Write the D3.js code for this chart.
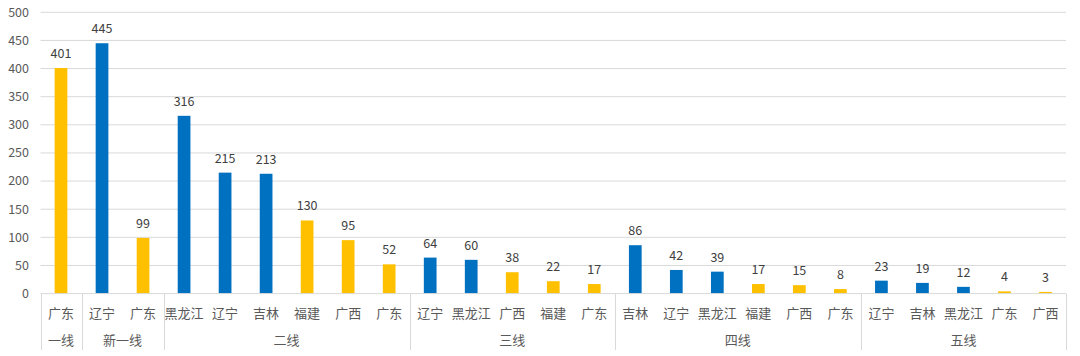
<!DOCTYPE html>
<html>
<head>
<meta charset="utf-8">
<script src="https://cdn.jsdelivr.net/npm/d3@7"></script>
<style>
  body { margin: 0; background: #fff; }
  text { font-family: "Noto Sans CJK SC", "Noto Sans", sans-serif; }
</style>
</head>
<body>
<div id="chart"></div>
<script>
var tiers = ["一线", "新一线", "二线", "三线", "四线", "五线"];
var tierOf = ["一线", "新一线", "新一线", "二线", "二线", "二线", "二线", "二线", "二线",
  "三线", "三线", "三线", "三线", "三线", "四线", "四线", "四线", "四线", "四线", "四线",
  "五线", "五线", "五线", "五线", "五线"];
var provinces = ["广东", "辽宁", "广东", "黑龙江", "辽宁", "吉林", "福建", "广西", "广东",
  "辽宁", "黑龙江", "广西", "福建", "广东", "吉林", "辽宁", "黑龙江", "福建", "广西", "广东",
  "辽宁", "吉林", "黑龙江", "广东", "广西"];
var values = [401, 445, 99, 316, 215, 213, 130, 95, 52, 64, 60, 38, 22, 17, 86, 42, 39, 17, 15, 8, 23, 19, 12, 4, 3];
var northeast = ["辽宁", "吉林", "黑龙江"];
var yTicks = [0, 50, 100, 150, 200, 250, 300, 350, 400, 450, 500];

(function () {
  var width = 1080, height = 356;
  var left = 40.5, right = 1066, top = 12.3, bottom = 293.6;

  var svg = d3.select("#chart").append("svg")
    .attr("width", width)
    .attr("height", height);

  var idx = d3.range(values.length);
  var x = d3.scaleBand().domain(idx).range([left, right]).paddingInner(0.69).paddingOuter(0.345);
  var y = d3.scaleLinear().domain([0, 500]).range([bottom, top]);

  // gridlines
  svg.append("g").selectAll("line")
    .data(yTicks.slice(1))
    .enter().append("line")
    .attr("x1", left).attr("x2", right)
    .attr("y1", function (d) { return y(d); })
    .attr("y2", function (d) { return y(d); })
    .attr("stroke", "#d9d9d9")
    .attr("stroke-width", 1);

  // y labels
  svg.append("g").selectAll("text")
    .data(yTicks)
    .enter().append("text")
    .attr("x", 29)
    .attr("y", function (d) { return y(d); })
    .attr("dy", "0.35em")
    .attr("text-anchor", "end")
    .attr("font-size", 12.5)
    .attr("fill", "#595959")
    .text(function (d) { return d; });

  // bars
  svg.append("g").selectAll("rect")
    .data(idx)
    .enter().append("rect")
    .attr("x", function (i) { return x(i); })
    .attr("width", x.bandwidth())
    .attr("y", function (i) { return y(values[i]); })
    .attr("height", function (i) { return y(0) - y(values[i]); })
    .attr("fill", function (i) {
      return northeast.indexOf(provinces[i]) >= 0 ? "#0070c0" : "#ffc000";
    });

  // value labels
  svg.append("g").selectAll("text")
    .data(idx)
    .enter().append("text")
    .attr("x", function (i) { return x(i) + x.bandwidth() / 2; })
    .attr("y", function (i) { return y(values[i]) - 10; })
    .attr("text-anchor", "middle")
    .attr("font-size", 12.5)
    .attr("fill", "#404040")
    .text(function (i) { return values[i]; });

  // axis line
  svg.append("line")
    .attr("x1", left).attr("x2", right)
    .attr("y1", y(0)).attr("y2", y(0))
    .attr("stroke", "#d9d9d9");

  // province labels
  svg.append("g").selectAll("text")
    .data(idx)
    .enter().append("text")
    .attr("x", function (i) { return x(i) + x.bandwidth() / 2; })
    .attr("y", 313)
    .attr("dy", "0.35em")
    .attr("text-anchor", "middle")
    .attr("font-size", 13)
    .attr("fill", "#595959")
    .text(function (i) { return provinces[i]; });

  // tier groups
  var step = x.step();
  var groups = tiers.map(function (t) {
    var members = idx.filter(function (i) { return tierOf[i] === t; });
    return { name: t, first: members[0], last: members[members.length - 1] };
  });

  var bounds = [left].concat(groups.map(function (g) { return left + (g.last + 1) * step; }));
  svg.append("g").selectAll("line")
    .data(bounds)
    .enter().append("line")
    .attr("x1", function (d) { return Math.round(d) + 0.5; })
    .attr("x2", function (d) { return Math.round(d) + 0.5; })
    .attr("y1", y(0)).attr("y2", 350)
    .attr("stroke", "#d9d9d9");

  svg.append("g").selectAll("text")
    .data(groups)
    .enter().append("text")
    .attr("x", function (g) { return left + (g.first + (g.last + 1)) * step / 2; })
    .attr("y", 340)
    .attr("dy", "0.35em")
    .attr("text-anchor", "middle")
    .attr("font-size", 13)
    .attr("fill", "#595959")
    .text(function (g) { return g.name; });
})();
</script>
</body>
</html>
